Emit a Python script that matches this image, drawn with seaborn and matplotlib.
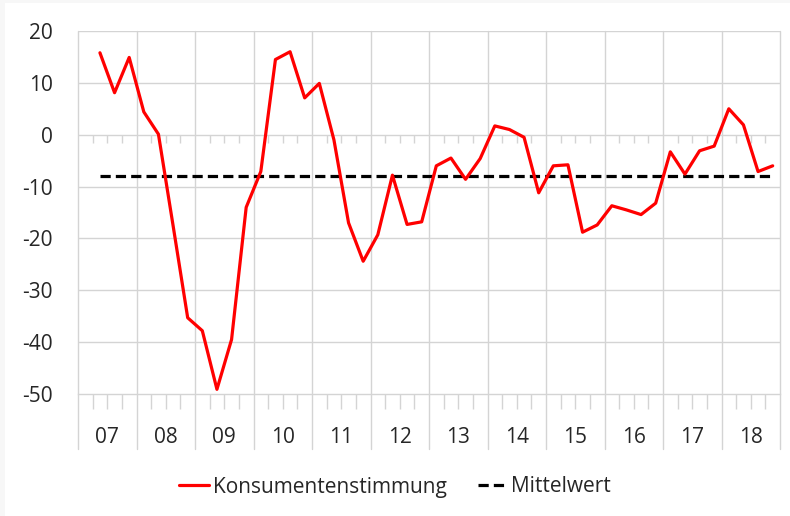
import numpy as np
import pandas as pd
import matplotlib
matplotlib.use("Agg")
import matplotlib.pyplot as plt
import seaborn as sns

# quarterly consumer sentiment, 2007 Q2 .. 2018 Q4
years = ["07", "08", "09", "10", "11", "12", "13", "14", "15", "16", "17", "18"]
quarters = ["2007Q2", "2007Q3", "2007Q4",
            "2008Q1", "2008Q2", "2008Q3", "2008Q4",
            "2009Q1", "2009Q2", "2009Q3", "2009Q4",
            "2010Q1", "2010Q2", "2010Q3", "2010Q4",
            "2011Q1", "2011Q2", "2011Q3", "2011Q4",
            "2012Q1", "2012Q2", "2012Q3", "2012Q4",
            "2013Q1", "2013Q2", "2013Q3", "2013Q4",
            "2014Q1", "2014Q2", "2014Q3", "2014Q4",
            "2015Q1", "2015Q2", "2015Q3", "2015Q4",
            "2016Q1", "2016Q2", "2016Q3", "2016Q4",
            "2017Q1", "2017Q2", "2017Q3", "2017Q4",
            "2018Q1", "2018Q2", "2018Q3", "2018Q4"]
sentiment = [15.8, 8.1, 14.9,
             4.4, 0.1, -17.5, -35.3,
             -37.8, -49.1, -39.5, -14.0,
             -7.1, 14.5, 16.0, 7.1,
             9.9, -1.0, -17.0, -24.4,
             -19.3, -7.8, -17.3, -16.8,
             -6.0, -4.5, -8.6, -4.6,
             1.7, 1.0, -0.5, -11.2,
             -6.0, -5.8, -18.8, -17.4,
             -13.7, -14.5, -15.4, -13.2,
             -3.3, -7.6, -3.1, -2.2,
             5.0, 1.9, -7.1, -6.0]
mean_value = -7.9

first_year = 2007
df = pd.DataFrame({"quarter": quarters, "Konsumentenstimmung": sentiment})
df["pos"] = [(int(q[:4]) - first_year) * 4 + int(q[-1]) - 0.5 for q in df["quarter"]]
df["Mittelwert"] = mean_value

sns.set_style("white")
plt.rcParams["font.family"] = ["Open Sans", "DejaVu Sans"]
text_col = "#262626"
grid_col = "#d4d4d4"
fs = 15

fig = plt.figure(figsize=(7.9, 5.16), dpi=100)
ax = fig.add_axes([78 / 790, 1 - 394 / 516, 702 / 790, 363 / 516])

n_q = len(years) * 4
ax.set_xlim(0, n_q)
ax.set_ylim(-50, 20)

# grid
for v in range(-40, 21, 10):
    ax.axhline(v, color=grid_col, lw=1.0, zorder=0)
for k in range(len(years) + 1):
    ax.axvline(k * 4, ymin=-0.1515, ymax=1, color=grid_col, lw=1.0,
               clip_on=False, zorder=0)
# quarter ticks on the zero line and below the plot
qb = [k for k in range(n_q) if k % 4]
ax.vlines(qb, -1.55, 0, color=grid_col, lw=1.0, zorder=0)
ax.vlines(qb, -52.9, -50, color=grid_col, lw=1.0, clip_on=False, zorder=0)

sns.lineplot(data=df, x="pos", y="Konsumentenstimmung", color="#ff0000",
             lw=2.3, ax=ax, label="Konsumentenstimmung", zorder=3)
sns.lineplot(data=df, x="pos", y="Mittelwert", color="black", lw=2.3,
             ax=ax, label="Mittelwert", zorder=2, dashes=False)
ax.lines[-1].set_dashes((3.2, 1.6))

for s in ["top", "right", "left"]:
    ax.spines[s].set_visible(False)
ax.spines["bottom"].set_color(grid_col)
ax.spines["bottom"].set_linewidth(1.0)

ax.set_yticks(range(-50, 21, 10))
ax.set_yticklabels([str(v) for v in range(-50, 21, 10)], fontsize=fs, color=text_col)
ax.tick_params(axis="y", length=0, pad=18)
ax.set_xticks([k * 4 + 2 for k in range(len(years))])
ax.set_xticklabels(years, fontsize=fs, color=text_col)
ax.tick_params(axis="x", length=0, pad=24)
ax.set_xlabel("")
ax.set_ylabel("")

ax.get_legend().remove()
h, l = ax.get_legend_handles_labels()
fig.legend(h, l, loc="center", bbox_to_anchor=(0.5, 1 - 487 / 516), ncol=2,
           frameon=False, fontsize=fs, labelcolor=text_col, handlelength=1.45,
           handletextpad=0.15, columnspacing=1.5)

# faint band along the top and left edges of the picture
fig.patches.append(plt.Rectangle((0, 1 - 3 / 516), 1, 3 / 516, transform=fig.transFigure,
                                 color="#f7f7f7", lw=0))
fig.patches.append(plt.Rectangle((0, 0), 5 / 790, 1, transform=fig.transFigure,
                                 color="#f7f7f7", lw=0))

fig.savefig("out.png", dpi=100, facecolor="white")
